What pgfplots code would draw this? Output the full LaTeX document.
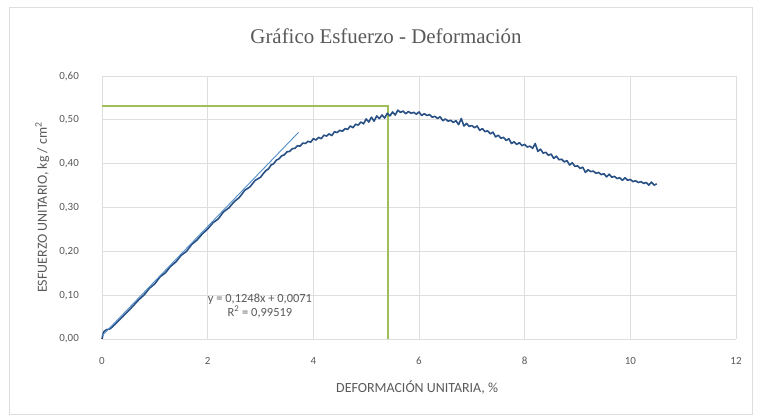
\documentclass[border=0pt]{standalone}
\usepackage{pgfplots}
\pgfplotsset{compat=1.18}
\usepackage{fontspec}
\setmainfont{Carlito}
\newfontfamily\titlefont{Liberation Serif}

\definecolor{txtgray}{RGB}{89,89,89}
\definecolor{gridgray}{RGB}{222,222,222}
\definecolor{curveblue}{RGB}{40,80,132}
\definecolor{trendblue}{RGB}{80,140,200}
\definecolor{peakgreen}{RGB}{160,190,90}

% stress-strain readings: unit strain (%) vs unit stress (kg/cm2)
\pgfplotstableread{
x y
0.00 0.000
0.03 0.016
0.08 0.021
0.15 0.023
0.20 0.028
0.30 0.040
0.40 0.052
0.50 0.064
0.60 0.077
0.70 0.090
0.80 0.101
0.90 0.116
1.00 0.126
1.10 0.142
1.20 0.151
1.30 0.166
1.40 0.176
1.50 0.191
1.60 0.200
1.70 0.216
1.80 0.226
1.90 0.240
2.00 0.251
2.10 0.265
2.20 0.274
2.30 0.290
2.40 0.299
2.50 0.313
2.60 0.323
2.70 0.339
2.80 0.347
2.90 0.362
3.00 0.369
3.05 0.377
3.10 0.384
3.15 0.388
3.20 0.397
3.25 0.400
3.30 0.408
3.35 0.411
3.40 0.418
3.45 0.420
3.50 0.427
3.55 0.428
3.60 0.434
3.65 0.435
3.70 0.441
3.75 0.440
3.80 0.447
3.85 0.446
3.90 0.451
3.95 0.449
4.00 0.457
4.05 0.454
4.10 0.460
4.15 0.457
4.20 0.465
4.25 0.463
4.30 0.468
4.35 0.464
4.40 0.473
4.45 0.471
4.50 0.476
4.55 0.474
4.60 0.480
4.65 0.478
4.70 0.486
4.75 0.482
4.80 0.490
4.85 0.488
4.90 0.495
4.95 0.491
5.00 0.502
5.05 0.495
5.10 0.506
5.15 0.497
5.20 0.509
5.25 0.503
5.30 0.511
5.35 0.504
5.40 0.515
5.45 0.509
5.50 0.518
5.55 0.511
5.60 0.522
5.65 0.517
5.70 0.520
5.75 0.514
5.80 0.519
5.85 0.515
5.90 0.517
5.95 0.513
6.00 0.518
6.05 0.510
6.10 0.514
6.15 0.510
6.20 0.512
6.25 0.506
6.30 0.508
6.35 0.503
6.40 0.507
6.45 0.498
6.50 0.502
6.55 0.497
6.60 0.499
6.65 0.494
6.70 0.498
6.75 0.489
6.80 0.503
6.85 0.486
6.90 0.492
6.95 0.485
7.00 0.487
7.05 0.482
7.10 0.486
7.15 0.476
7.20 0.480
7.25 0.473
7.30 0.475
7.35 0.468
7.40 0.472
7.45 0.461
7.50 0.465
7.55 0.458
7.60 0.460
7.65 0.453
7.70 0.457
7.75 0.446
7.80 0.450
7.85 0.444
7.90 0.448
7.95 0.441
8.00 0.444
8.05 0.438
8.10 0.440
8.15 0.435
8.20 0.446
8.25 0.428
8.30 0.433
8.35 0.424
8.40 0.426
8.45 0.419
8.50 0.422
8.55 0.412
8.60 0.417
8.65 0.409
8.70 0.410
8.75 0.404
8.80 0.407
8.85 0.397
8.90 0.402
8.95 0.394
9.00 0.395
9.05 0.389
9.10 0.392
9.15 0.380
9.20 0.386
9.25 0.382
9.30 0.383
9.35 0.378
9.40 0.380
9.45 0.375
9.50 0.377
9.55 0.370
9.60 0.376
9.65 0.369
9.70 0.371
9.75 0.366
9.80 0.368
9.85 0.362
9.90 0.368
9.95 0.362
10.00 0.364
10.05 0.359
10.10 0.361
10.15 0.357
10.20 0.359
10.25 0.355
10.30 0.357
10.35 0.351
10.40 0.358
10.45 0.351
10.50 0.354
}\ensayo

\begin{document}
\begin{tikzpicture}
\path[use as bounding box] (-102bp,-78bp) rectangle (662bp,339bp);
\draw[gridgray, line width=0.75bp] (-93bp,-75bp) rectangle (650bp,332bp);
\begin{axis}[
  at={(0,0)}, anchor=south west,
  scale only axis, width=634bp, height=263bp,
  xmin=0, xmax=12, ymin=0, ymax=0.6,
  xtick={0,2,4,6,8,10,12},
  ytick={0,0.1,0.2,0.3,0.4,0.5,0.6},
  grid=major,
  major grid style={gridgray, line width=0.75bp},
  axis line style={draw=none},
  major tick length=0pt,
  tick label style={font=\fontsize{11}{13}\selectfont, text=txtgray, inner sep=0pt},
  /pgf/number format/assume math mode=true,
  yticklabel style={anchor=east, xshift=-23bp,
    /pgf/number format/.cd, fixed, fixed zerofill, precision=2, use comma},
  xticklabel style={anchor=north, yshift=-18bp},
  title={Gráfico Esfuerzo - Deformación},
  title style={at={(axis description cs:0.448,1)}, anchor=base, yshift=27bp,
    font=\titlefont\fontsize{21}{25}\selectfont, text=txtgray},
  xlabel={DEFORMACIÓN UNITARIA, \%},
  xlabel style={at={(axis description cs:0.497,0)}, anchor=base, yshift=-53bp,
    font=\fontsize{14}{16}\selectfont, text=txtgray},
  ylabel={ESFUERZO UNITARIO, kg / cm\textsuperscript{2}},
  ylabel style={at={(axis description cs:-0.087,0.5)}, anchor=base,
    font=\fontsize{14}{16}\selectfont, text=txtgray},
  clip=false,
]
% peak stress reference lines
\addplot[peakgreen, line width=2.2bp] coordinates {(0,0.531) (5.42,0.531) (5.42,0)};
% measured curve
\addplot[curveblue, line width=1.6bp, line join=round] table {\ensayo};
% linear fit of the elastic range
\addplot[trendblue, line width=0.9bp] coordinates {(0,0.0071) (3.72,0.4714)};
\node[align=center, font=\fontsize{12.5}{14}\selectfont, text=txtgray]
  at (axis cs:2.99,0.076) {y = 0,1248x + 0,0071\\R\textsuperscript{2} = 0,99519};
\end{axis}
\end{tikzpicture}
\end{document}
